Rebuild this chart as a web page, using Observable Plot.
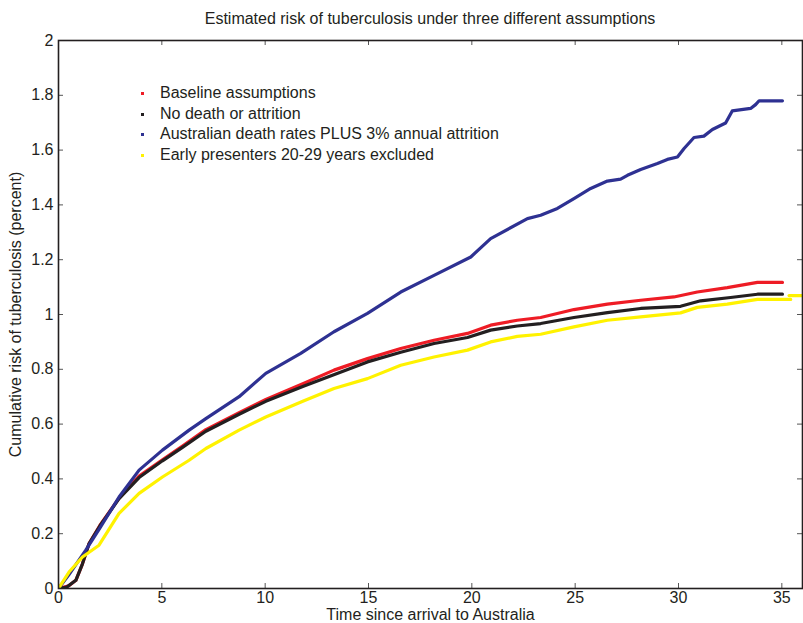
<!DOCTYPE html>
<html>
<head>
<meta charset="utf-8">
<script src="https://cdn.jsdelivr.net/npm/d3@7"></script>
<script src="https://cdn.jsdelivr.net/npm/@observablehq/plot@0.6"></script>
<style>
  html, body { margin: 0; padding: 0; background: #fff; }
  #wrap { position: relative; width: 803px; height: 623px; font-family: "Liberation Sans", Arial, Helvetica, sans-serif; color: #231f20; }
  #title { position: absolute; left: 58px; width: 744px; top: 9px; text-align: center; font-size: 16px; line-height: 20px; }
  #legend { position: absolute; left: 133px; top: 83px; font-size: 16px; }
  .row { position: relative; height: 20.7px; line-height: 20.7px; padding-left: 27px; white-space: nowrap; }
  .sw { position: absolute; left: 8px; top: 9px; width: 3px; height: 3px; }
</style>
</head>
<body>
<div id="wrap">
  <div id="chart"></div>
  <div id="title"></div>
  <div id="legend"></div>
</div>
<script>
const titleText = "Estimated risk of tuberculosis under three different assumptions";
const xLabel = "Time since arrival to Australia";
const yLabel = "Cumulative risk of tuberculosis (percent)";
const seriesNames = ["Baseline assumptions", "No death or attrition", "Australian death rates PLUS 3% annual attrition", "Early presenters 20-29 years excluded"];
const seriesColors = ["#ee1c25", "#231f20", "#2e3192", "#fff200"];
const xTicks = [0, 5, 10, 15, 20, 25, 30, 35];
const yTicks = [0, 0.2, 0.4, 0.6, 0.8, 1, 1.2, 1.4, 1.6, 1.8, 2];

const baseline = [[0,0],[0.5,0.01],[0.84,0.03],[1.16,0.09],[1.48,0.164],[2.0,0.23],[2.93,0.33],[3.9,0.41],[5.03,0.47],[6.0,0.52],[7.13,0.58],[8.74,0.642],[10.03,0.69],[11.85,0.748],[13.33,0.797],[14.95,0.839],[16.56,0.876],[18.17,0.906],[19.79,0.931],[20.91,0.961],[22.2,0.979],[23.33,0.989],[24.94,1.018],[26.56,1.038],[28.17,1.052],[29.78,1.064],[30.91,1.082],[32.36,1.098],[33.82,1.117],[35.03,1.117]];
const noDeath = [[0,0],[0.4,0.005],[0.84,0.03],[1.16,0.09],[1.48,0.164],[2.0,0.228],[2.93,0.328],[3.9,0.405],[5.03,0.466],[6.0,0.515],[7.13,0.574],[8.74,0.636],[10.03,0.683],[11.85,0.738],[14.95,0.827],[16.56,0.862],[18.17,0.894],[19.79,0.916],[20.91,0.943],[22.2,0.958],[23.33,0.967],[24.94,0.989],[26.56,1.007],[28.17,1.022],[30.1,1.03],[31.07,1.05],[32.52,1.062],[33.82,1.074],[35.03,1.074]];
const ausDeath = [[0,0],[0.5,0.05],[1.32,0.14],[2.0,0.22],[2.93,0.334],[3.9,0.432],[5.03,0.505],[6.32,0.578],[7.13,0.62],[8.74,0.70],[10.03,0.785],[11.72,0.858],[13.33,0.937],[14.95,1.004],[16.56,1.082],[18.17,1.143],[19.95,1.21],[20.91,1.277],[22.69,1.35],[23.33,1.362],[24.14,1.387],[24.94,1.423],[25.75,1.46],[26.56,1.487],[27.2,1.494],[27.53,1.508],[28.17,1.529],[28.98,1.551],[29.46,1.566],[29.95,1.575],[30.27,1.606],[30.75,1.646],[31.23,1.651],[31.64,1.675],[32.28,1.699],[32.6,1.743],[33.49,1.752],[33.73,1.766],[33.9,1.78],[35.03,1.78]];
const earlyExcl = [[0,0],[0.51,0.06],[1.16,0.115],[1.96,0.158],[2.93,0.274],[3.9,0.347],[5.03,0.407],[6.32,0.468],[7.13,0.511],[8.74,0.578],[10.03,0.626],[11.85,0.684],[13.33,0.73],[14.95,0.766],[16.56,0.815],[18.17,0.845],[19.79,0.87],[20.91,0.90],[22.2,0.92],[23.33,0.928],[24.94,0.955],[26.56,0.979],[28.17,0.991],[30.1,1.006],[30.91,1.026],[32.36,1.038],[33.82,1.055],[35.43,1.055]];
const earlyExclTail = [[35.35,1.069],[36.5,1.069]];

const W = 803, H = 623, mL = 58, mR = 1, mT = 40, mB = 35;
const innerW = W - mL - mR, innerH = H - mT - mB;
const tickLen = 5;
const fmtY = d => String(+d.toFixed(1));

const lines = [baseline, noDeath, ausDeath, earlyExcl].map((data, i) =>
  Plot.line(data, {x: d => d[0], y: d => d[1], stroke: seriesColors[i], strokeWidth: 3.2, clip: true})
);

const chart = Plot.plot({
  width: W, height: H,
  marginLeft: mL, marginRight: mR, marginTop: mT, marginBottom: mB,
  style: {fontFamily: '"Liberation Sans", Arial, Helvetica, sans-serif', fontSize: "16px", color: "#231f20", background: "#fff"},
  x: {domain: [0, 36]},
  y: {domain: [0, 2]},
  marks: [
    ...lines,
    Plot.line(earlyExclTail, {x: d => d[0], y: d => d[1], stroke: seriesColors[3], strokeWidth: 3.2, clip: true}),
    Plot.tickX(xTicks, {x: d => d, insetTop: innerH - tickLen, stroke: "#555"}),
    Plot.tickX(xTicks, {x: d => d, insetBottom: innerH - tickLen, stroke: "#555"}),
    Plot.tickY(yTicks, {y: d => d, insetRight: innerW - tickLen, stroke: "#555"}),
    Plot.tickY(yTicks, {y: d => d, insetLeft: innerW - tickLen, stroke: "#555"}),
    Plot.axisX(xTicks, {tickSize: 0, tickPadding: 3, label: xLabel, labelAnchor: "center", labelArrow: "none", labelOffset: 31, fill: "#231f20", fontSize: 16}),
    Plot.axisY(yTicks, {tickSize: 0, tickPadding: 5, tickFormat: fmtY, label: yLabel, labelAnchor: "center", labelArrow: "none", labelOffset: 49, fill: "#231f20", fontSize: 16}),
    Plot.frame({stroke: "#231f20", strokeWidth: 1.6})
  ]
});
document.getElementById("chart").appendChild(chart);
document.getElementById("title").textContent = titleText;
const legend = document.getElementById("legend");
seriesNames.forEach((name, i) => {
  const row = document.createElement("div");
  row.className = "row";
  const sw = document.createElement("span");
  sw.className = "sw";
  sw.style.background = seriesColors[i];
  row.appendChild(sw);
  row.appendChild(document.createTextNode(name));
  legend.appendChild(row);
});
</script>
</body>
</html>
